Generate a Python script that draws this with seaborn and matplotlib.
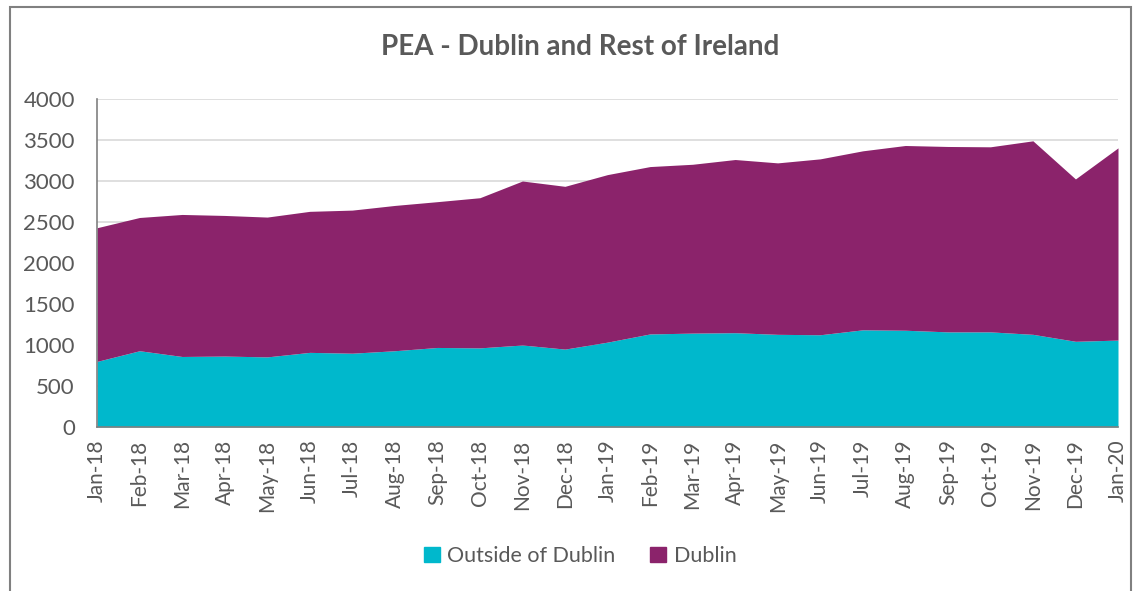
import matplotlib
matplotlib.use("Agg")
import matplotlib.pyplot as plt
import matplotlib.patches as mpatches
import numpy as np
import pandas as pd
import seaborn as sns

# values
months = ["Jan-18", "Feb-18", "Mar-18", "Apr-18", "May-18", "Jun-18", "Jul-18",
          "Aug-18", "Sep-18", "Oct-18", "Nov-18", "Dec-18", "Jan-19", "Feb-19",
          "Mar-19", "Apr-19", "May-19", "Jun-19", "Jul-19", "Aug-19", "Sep-19",
          "Oct-19", "Nov-19", "Dec-19", "Jan-20"]
outside_dublin = [800, 930, 860, 865, 855, 910, 900, 930, 970, 965, 1000, 950,
                  1035, 1135, 1145, 1150, 1130, 1125, 1185, 1180, 1160, 1160,
                  1130, 1045, 1060]
total = [2430, 2555, 2592, 2580, 2560, 2630, 2645, 2702, 2748, 2796, 3000, 2935,
         3078, 3176, 3204, 3262, 3221, 3270, 3368, 3433, 3421, 3417, 3490, 3025, 3404]
dublin = [t - o for t, o in zip(total, outside_dublin)]

TEAL = "#00B8CC"
PURPLE = "#8B236B"
GREY = "#595959"

df = pd.DataFrame({"month": months, "Outside of Dublin": outside_dublin, "Dublin": dublin})

sns.set_style("white")
plt.rcParams["font.family"] = ["Lato", "DejaVu Sans"]

fig = plt.figure(figsize=(11.39, 5.91), dpi=100)
ax = fig.add_axes([97 / 1139, 1 - 427 / 591, (1118 - 97) / 1139, (427 - 99) / 591])

x = np.arange(len(df))
ax.stackplot(x, df["Outside of Dublin"], df["Dublin"], colors=[TEAL, PURPLE],
             labels=["Outside of Dublin", "Dublin"], linewidth=0, zorder=2)

ax.set_xlim(0, len(df) - 1)
ax.set_ylim(0, 4000)
ax.set_yticks(np.arange(0, 4001, 500))
ax.yaxis.grid(True, color="#D9D9D9", linewidth=1.2, zorder=0)
ax.set_axisbelow(True)
ax.set_xticks(x)
ax.set_xticklabels(df["month"], rotation=90)
ax.tick_params(axis="y", labelsize=16, colors=GREY, length=0, pad=16)
ax.tick_params(axis="x", labelsize=15, colors=GREY, length=6, width=1.2,
               direction="out", pad=3)
ax.tick_params(axis="x", color="#808080")

for side in ["top", "right"]:
    ax.spines[side].set_visible(False)
for side in ["left", "bottom"]:
    ax.spines[side].set_color("#808080")
    ax.spines[side].set_linewidth(1.2)

fig.text(580 / 1139, 1 - 47 / 591, "PEA - Dublin and Rest of Ireland",
         ha="center", va="center", fontsize=20, fontweight="bold", color=GREY)

handles = [mpatches.Patch(color=TEAL, label="Outside of Dublin"),
           mpatches.Patch(color=PURPLE, label="Dublin")]
fig.legend(handles=handles, loc="center", bbox_to_anchor=(580 / 1139, 1 - 556 / 591),
           ncol=2, frameon=False, fontsize=15.5, handlelength=0.75, handleheight=0.75,
           columnspacing=1.6, handletextpad=0.35, labelcolor=GREY)

# outer chart frame
fig.add_artist(mpatches.Rectangle((10 / 1139, -0.1), (1131 - 10) / 1139, 1.1 - 7 / 591,
                                  transform=fig.transFigure, fill=False,
                                  edgecolor="#808080", linewidth=1.5))

fig.savefig("out.png", dpi=100)
